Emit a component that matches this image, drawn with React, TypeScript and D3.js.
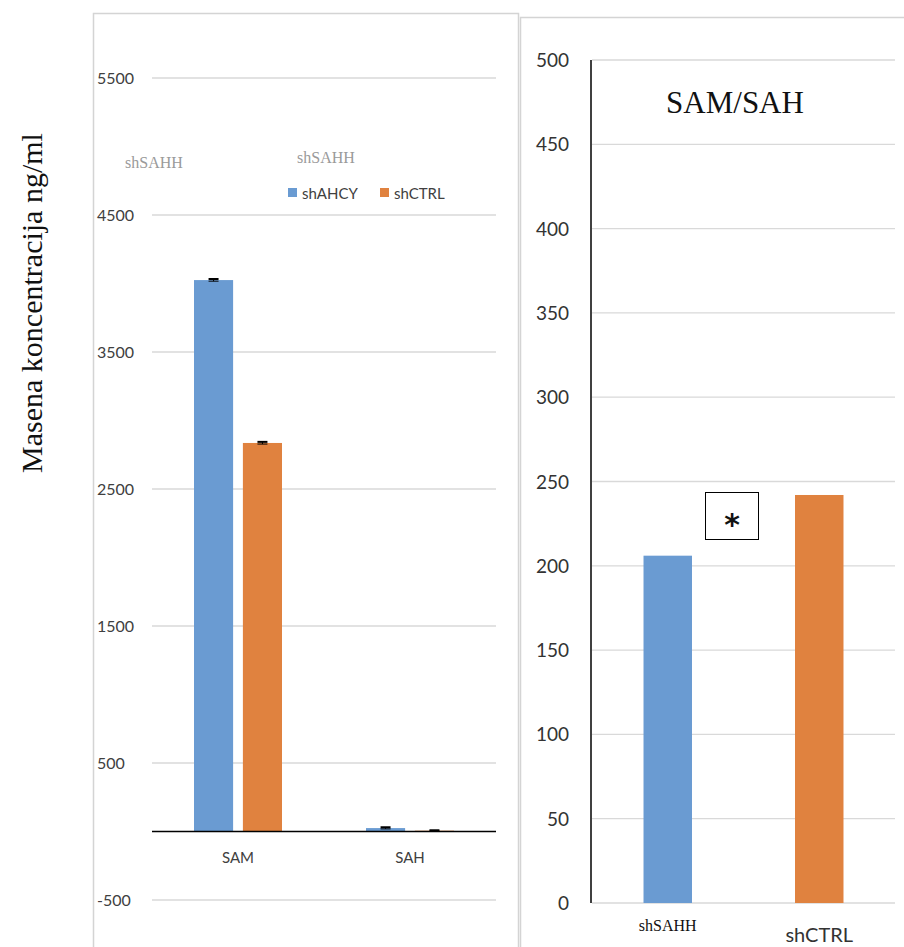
import React from "react";
import * as d3 from "d3";

const leftCategories = ["SAM", "SAH"];
const leftSeries = ["shAHCY", "shCTRL"];
const leftValues = [
  [4025, 2836],
  [25, 6],
];
const leftErrors = [
  [8, 8],
  [6, 3],
];
const leftTicks = [5500, 4500, 3500, 2500, 1500, 500, -500];

const rightCategories = ["shSAHH", "shCTRL"];
const rightValues = [206, 242];
const rightTicks = [0, 50, 100, 150, 200, 250, 300, 350, 400, 450, 500];

const BLUE = "#6a9bd2";
const ORANGE = "#e0823f";
const GRID = "#d9d9d9";
const SANS = "Lato, 'Open Sans', sans-serif";
const SERIF = "'Liberation Serif', 'DejaVu Serif', serif";

export default function App() {
  const ly = d3.scaleLinear().domain([-500, 5500]).range([900, 78]);
  const lx = d3.scaleBand().domain(leftCategories).range([152, 496]);
  const lInner = d3.scaleBand().domain(leftSeries).range([0, 88]).paddingInner(0.2);
  const lColors = [BLUE, ORANGE];

  const ry = d3.scaleLinear().domain([0, 500]).range([903, 60]);
  const rx = d3.scaleBand().domain(rightCategories).range([592, 895]).paddingInner(0.68).paddingOuter(0.34);
  const rColors = [BLUE, ORANGE];

  return (
    <svg width={904} height={947} style={{ position: "absolute", left: 0, top: 0, background: "#fff" }}>
      <rect x={93.5} y={13.5} width={425} height={960} fill="none" stroke="#d4d4d4" strokeWidth={1.5} />
      <rect x={520.5} y={17.5} width={400} height={960} fill="none" stroke="#d4d4d4" strokeWidth={1.5} />

      <text
        transform="translate(42,303) rotate(-90)"
        textAnchor="middle"
        fontFamily={SERIF}
        fontSize={30}
        fill="#111"
      >
        Masena koncentracija ng/ml
      </text>

      {leftTicks.map((t) => (
        <g key={t}>
          <line x1={152} x2={496} y1={ly(t)} y2={ly(t)} stroke={GRID} strokeWidth={1.3} />
          <text x={97} y={ly(t) + 6} fontFamily={SANS} fontSize={16} fill="#404040">
            {t}
          </text>
        </g>
      ))}

      {leftCategories.map((c, i) => {
        const gx = lx(c)! + lx.bandwidth() / 2 - 44;
        return (
          <g key={c}>
            {leftSeries.map((s, j) => {
              const v = leftValues[i][j];
              const e = leftErrors[i][j];
              const x = gx + lInner(s)!;
              const w = lInner.bandwidth();
              const cx = x + w / 2;
              return (
                <g key={s}>
                  <rect x={x} y={ly(v)} width={w} height={ly(0) - ly(v)} fill={lColors[j]} />
                  <line x1={cx} x2={cx} y1={ly(v + e)} y2={ly(v - e)} stroke="#000" strokeWidth={1} />
                  <line x1={cx - 5} x2={cx + 5} y1={ly(v + e)} y2={ly(v + e)} stroke="#000" strokeWidth={2} />
                  <line x1={cx - 5} x2={cx + 5} y1={ly(v - e)} y2={ly(v - e)} stroke="#000" strokeWidth={1} />
                </g>
              );
            })}
            <text
              x={lx(c)! + lx.bandwidth() / 2}
              y={863}
              textAnchor="middle"
              fontFamily={SANS}
              fontSize={15}
              fill="#404040"
            >
              {c}
            </text>
          </g>
        );
      })}
      <line x1={152} x2={496} y1={ly(0)} y2={ly(0)} stroke="#000" strokeWidth={1.3} />

      <text x={125} y={168} fontFamily={SERIF} fontSize={16} fill="#9a9a9a">shSAHH</text>
      <text x={297} y={163} fontFamily={SERIF} fontSize={16} fill="#9a9a9a">shSAHH</text>

      {leftSeries.map((s, j) => {
        const x = j === 0 ? 288 : 380;
        return (
          <g key={s}>
            <rect x={x} y={188} width={9} height={9} fill={lColors[j]} />
            <text x={x + 14} y={199} fontFamily={SANS} fontSize={15} fill="#404040">
              {s}
            </text>
          </g>
        );
      })}

      {rightTicks.map((t) => (
        <g key={t}>
          {t !== 0 && <line x1={592} x2={895} y1={ry(t)} y2={ry(t)} stroke={GRID} strokeWidth={1.3} />}
          <text x={569} y={ry(t) + 7} textAnchor="end" fontFamily={SANS} fontSize={19} fill="#333">
            {t}
          </text>
        </g>
      ))}
      <line x1={592} x2={895} y1={ry(0)} y2={ry(0)} stroke={GRID} strokeWidth={1.5} />

      {rightCategories.map((c, i) => (
        <rect
          key={c}
          x={rx(c)!}
          y={ry(rightValues[i])}
          width={rx.bandwidth()}
          height={ry(0) - ry(rightValues[i])}
          fill={rColors[i]}
        />
      ))}
      <line x1={591} x2={591} y1={60} y2={903} stroke="#000" strokeWidth={1.5} />

      <text
        x={rx(rightCategories[0])! + rx.bandwidth() / 2}
        y={931}
        textAnchor="middle"
        fontFamily={SERIF}
        fontSize={16}
        fill="#111"
      >
        {rightCategories[0]}
      </text>
      <text
        x={rx(rightCategories[1])! + rx.bandwidth() / 2}
        y={942}
        textAnchor="middle"
        fontFamily={SANS}
        fontSize={20}
        fill="#333"
      >
        {rightCategories[1]}
      </text>

      <text x={735} y={113} textAnchor="middle" fontFamily={SERIF} fontSize={31} fill="#111">
        SAM/SAH
      </text>

      <rect x={705.5} y={492.5} width={53} height={47} fill="#fff" stroke="#000" strokeWidth={1} />
      <text x={732} y={535} textAnchor="middle" fontFamily="'DejaVu Sans', sans-serif" fontSize={30} fontWeight="bold" fill="#111">
        *
      </text>
    </svg>
  );
}
